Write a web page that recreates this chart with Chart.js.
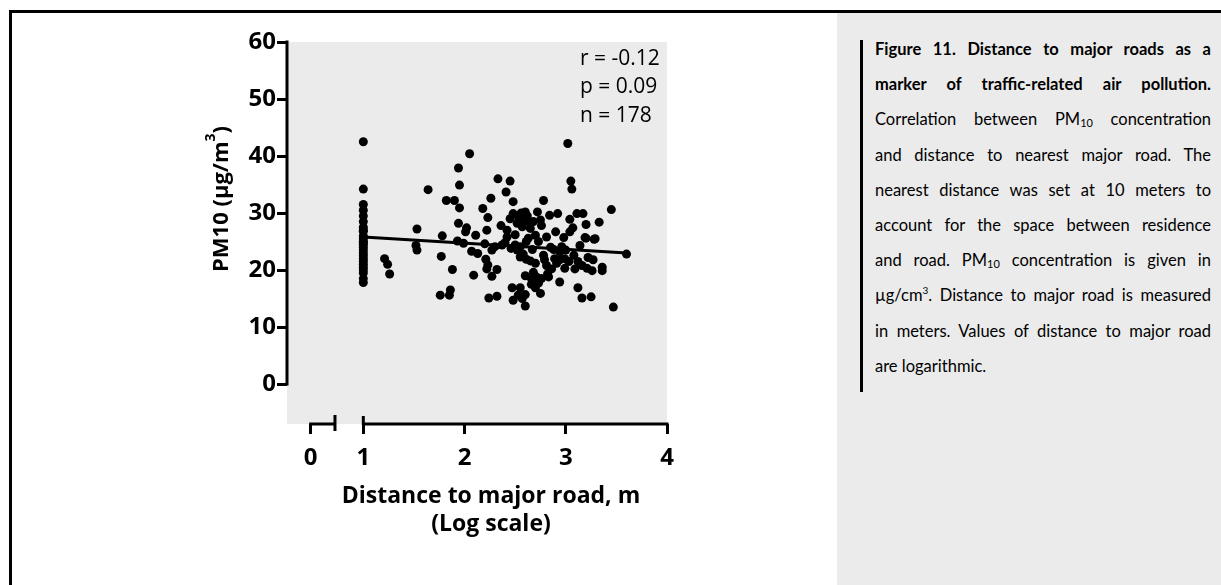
<!DOCTYPE html>
<html>
<head>
<meta charset="utf-8">
<script src="https://cdn.jsdelivr.net/npm/chart.js@4.4.1/dist/chart.umd.min.js"></script>
<style>
  html, body { margin: 0; padding: 0; background: #fff; }
  body { width: 1221px; height: 585px; overflow: hidden; position: relative; font-family: "Open Sans", sans-serif; }
  #frame { position: absolute; left: 9px; top: 10px; width: 1300px; height: 700px; border: 3px solid #000; box-sizing: border-box; }
  #wrap { position: absolute; left: 0; top: 0; width: 830px; height: 585px; }
  #panel { position: absolute; left: 837px; top: 13px; width: 384px; height: 572px; background: #ebebeb; }
  #bar { position: absolute; left: 860px; top: 40px; width: 3px; height: 352px; background: #000; }
  #caption { position: absolute; left: 875px; top: 32px; width: 336px; font-family: Lato, sans-serif; font-size: 16.5px; line-height: 35.2px; color: #000; }
  #caption div { text-align: justify; text-align-last: justify; white-space: normal; }
  #caption div.last { text-align-last: left; }
  #caption sub { font-size: 11px; vertical-align: -2px; line-height: 0; }
  #caption sup { font-size: 10px; vertical-align: 7px; line-height: 0; }
</style>
</head>
<body>
<div id="frame"></div>
<div id="panel"></div>
<div id="bar"></div>
<div id="caption">
  <div><b>Figure 11. Distance to major roads as a</b></div>
  <div><b>marker of traffic-related air pollution.</b></div>
  <div>Correlation between PM<sub>10</sub> concentration</div>
  <div>and distance to nearest major road. The</div>
  <div>nearest distance was set at 10 meters to</div>
  <div>account for the space between residence</div>
  <div>and road. PM<sub>10</sub> concentration is given in</div>
  <div>µg/cm<sup>3</sup>. Distance to major road is measured</div>
  <div>in meters. Values of distance to major road</div>
  <div class="last">are logarithmic.</div>
</div>
<div id="wrap"><canvas id="c"></canvas></div>
<script>
// log10 distance to major road (m)
const distLog = [
  1, 1, 1, 1, 1, 1, 1, 1, 1, 1, 1, 1, 1, 1, 1, 1, 1, 1, 1, 1, 1, 1, 1, 1, 1, 1,
  1.21, 1.24, 1.26, 1.53, 1.52, 1.53, 1.64, 1.78, 1.77, 1.76,
  1.86, 1.85, 1.82, 1.90, 1.95, 1.94, 1.95, 2.05, 1.94, 2.02,
  2.01, 1.93, 1.99, 1.88, 2.11, 2.07, 2.13, 2.09, 2.18, 2.26,
  2.23, 2.22, 2.20, 2.27, 2.21, 2.23, 2.22, 2.27, 2.32, 2.24,
  2.32, 2.33,
  3.02, 3.05, 3.06, 2.45, 2.41, 2.48, 2.78, 3.45, 3.33, 3.20,
  3.11, 3.17, 3.04, 3.07, 3.04, 2.98, 3.20, 3.28, 2.84, 2.92,
  2.72, 2.75, 2.76, 2.90, 2.81, 2.73, 2.70, 2.63,
  2.48, 2.53, 2.60, 2.58, 2.63, 2.52, 2.57, 2.65,
  2.42, 2.42, 2.37, 2.30, 2.50, 2.55, 2.52, 2.61, 2.96, 2.94,
  2.55, 2.61, 2.65, 2.78, 2.79, 2.81,
  2.89, 2.94, 2.99, 3.03, 2.91, 2.99,
  3.12, 3.16, 3.21, 3.27, 3.26, 3.36, 3.36, 3.09, 3.60,
  2.66, 2.71, 2.76, 2.83, 2.73, 2.70, 2.75, 2.94,
  2.47, 2.55, 2.60, 2.57, 2.48, 2.60, 2.53,
  3.12, 3.16, 3.25, 3.47, 3.19, 3.29,
  2.45, 2.56, 2.62, 2.68, 2.40, 2.46, 2.58, 2.67, 2.70, 2.85,
  2.88, 3.00, 3.08, 3.14, 2.60, 2.68, 2.82, 2.86, 2.50, 2.36,
  3.22, 2.66
];
// PM10 concentration (µg/m3)
const pm10 = [
  42.5, 34.2, 31.5, 30.5, 29.5, 28.5, 27.5, 27.0, 26.8, 26.0, 25.5, 25.0, 24.8,
  24.5, 24.0, 23.5, 23.0, 22.5, 22.0, 21.5, 21.0, 20.5, 20.0, 19.5, 18.5, 17.8,
  22.0, 21.0, 19.3, 27.2, 24.3, 23.5, 34.1, 26.0, 22.4, 15.6,
  16.5, 15.6, 32.2, 32.2, 30.9, 37.9, 34.9, 40.4, 28.2, 27.4,
  26.7, 25.1, 24.7, 20.1, 26.1, 23.3, 22.9, 19.1, 30.8, 32.6,
  29.2, 27.0, 24.6, 23.5, 21.9, 20.9, 20.2, 18.9, 20.1, 15.1,
  15.4, 36.0,
  42.2, 35.6, 34.2, 35.6, 33.7, 32.0, 32.2, 30.6, 28.4, 28.0,
  29.9, 29.9, 28.9, 27.4, 26.7, 25.7, 25.6, 25.4, 29.6, 29.9,
  30.2, 28.8, 27.8, 26.7, 25.8, 25.0, 26.1, 25.6,
  29.9, 29.4, 30.2, 28.8, 28.5, 28.2, 27.6, 27.3,
  27.0, 25.8, 24.4, 24.1, 24.4, 24.1, 23.5, 25.0, 24.1, 23.2,
  22.3, 21.9, 21.6, 22.6, 21.8, 20.8,
  22.0, 21.8, 22.0, 21.5, 21.2, 20.3,
  21.5, 20.8, 20.3, 21.8, 19.9, 20.5, 19.9, 20.2, 22.8,
  18.5, 18.8, 18.5, 18.8, 17.7, 16.9, 15.9, 17.9,
  16.9, 16.9, 15.7, 15.0, 14.7, 13.7, 15.6,
  16.9, 15.1, 15.3, 13.5, 25.7, 25.5,
  29.0, 30.0, 29.5, 28.5, 24.8, 23.8, 22.8, 23.6, 21.2, 24.0,
  23.6, 23.5, 22.6, 24.3, 19.0, 19.6, 19.3, 20.2, 26.2, 27.8,
  22.2, 17.5
];
// linear fit endpoints
const fitX = [1, 3.6];
const fitY = [25.8, 23.0];

const xTickValues = [0.48, 1, 2, 3, 4];
const xTickLabels = ['0', '1', '2', '3', '4'];
const yTickValues = [0, 10, 20, 30, 40, 50, 60];
const statLines = ['r = -0.12', 'p = 0.09', 'n = 178'];

const FONT = '"Open Sans", sans-serif';

const plotDecor = {
  id: 'plotDecor',
  beforeDraw(chart) {
    const { ctx, chartArea: a } = chart;
    ctx.save();
    ctx.fillStyle = '#ebebeb';
    ctx.fillRect(a.left, a.top, a.right - a.left, a.bottom - a.top);
    ctx.restore();
  },
  afterDraw(chart) {
    const { ctx, chartArea: a } = chart;
    const xs = chart.scales.x, ys = chart.scales.y;
    ctx.save();
    ctx.strokeStyle = '#000';
    ctx.lineWidth = 3;
    ctx.lineCap = 'butt';

    // y axis line, 0..60 only
    ctx.beginPath();
    ctx.moveTo(a.left, ys.getPixelForValue(0) + 1.5);
    ctx.lineTo(a.left, ys.getPixelForValue(60) - 1.5);
    ctx.stroke();

    // broken x axis
    const yb = a.bottom;
    const x0 = xs.getPixelForValue(0.48), xBreak = xs.getPixelForValue(0.72);
    const x1 = xs.getPixelForValue(1), x4 = xs.getPixelForValue(4);
    ctx.beginPath();
    ctx.moveTo(x0 - 1.5, yb); ctx.lineTo(xBreak, yb);
    ctx.moveTo(xBreak, yb - 9); ctx.lineTo(xBreak, yb + 7);
    ctx.moveTo(x1, yb - 8); ctx.lineTo(x1, yb + 1);
    ctx.moveTo(x1, yb); ctx.lineTo(x4 + 1.5, yb);
    ctx.stroke();

    // axis titles
    ctx.fillStyle = '#000';
    ctx.textAlign = 'center';
    ctx.textBaseline = 'middle';
    ctx.font = 'bold 23px ' + FONT;
    ctx.fillText('Distance to major road, m', 491, 496);
    ctx.fillText('(Log scale)', 491, 524);

    ctx.translate(222, 199);
    ctx.rotate(-Math.PI / 2);
    const main = 'PM10 (µg/m', sup = '3', close = ')';
    ctx.font = 'bold 22px ' + FONT;
    const wMain = ctx.measureText(main).width, wClose = ctx.measureText(close).width;
    ctx.font = 'bold 14px ' + FONT;
    const wSup = ctx.measureText(sup).width;
    let cx = -(wMain + wSup + wClose) / 2;
    ctx.textAlign = 'left';
    ctx.font = 'bold 22px ' + FONT;
    ctx.fillText(main, cx, 0);
    cx += wMain;
    ctx.font = 'bold 14px ' + FONT;
    ctx.fillText(sup, cx, -11);
    cx += wSup;
    ctx.font = 'bold 22px ' + FONT;
    ctx.fillText(close, cx, 0);
    ctx.setTransform(1, 0, 0, 1, 0, 0);

    // stats
    ctx.font = '21px ' + FONT;
    ctx.textAlign = 'left';
    statLines.forEach((t, i) => ctx.fillText(t, 580, 59 + i * 28.5));
    ctx.restore();
  }
};

const tickFont = { family: FONT, size: 24, weight: 'bold' };

new Chart(document.getElementById('c'), {
  data: {
    datasets: [
      {
        type: 'scatter',
        data: distLog.map((x, i) => ({ x: x, y: pm10[i] })),
        backgroundColor: '#000',
        borderColor: '#000',
        pointRadius: 4.5,
        pointBorderWidth: 0
      },
      {
        type: 'line',
        data: fitX.map((x, i) => ({ x: x, y: fitY[i] })),
        borderColor: '#000',
        borderWidth: 3,
        pointRadius: 0,
        fill: false
      }
    ]
  },
  options: {
    responsive: true,
    maintainAspectRatio: false,
    animation: false,
    layout: { padding: { top: 42, right: 163, bottom: 0, left: 0 } },
    plugins: { legend: { display: false }, tooltip: { enabled: false } },
    scales: {
      x: {
        type: 'linear',
        min: 0.246,
        max: 4,
        afterBuildTicks: s => { s.ticks = xTickValues.map(v => ({ value: v })); },
        afterFit: s => { s.height = 161; },
        ticks: { font: tickFont, color: '#000', padding: 10, autoSkip: false, maxRotation: 0,
                 callback: (v, i) => xTickLabels[i] },
        grid: { display: true, drawOnChartArea: false, drawTicks: true, tickLength: 10, color: '#000', lineWidth: 3 },
        border: { display: false }
      },
      y: {
        type: 'linear',
        min: -7,
        max: 60,
        afterBuildTicks: s => { s.ticks = yTickValues.map(v => ({ value: v })); },
        afterFit: s => { s.width = 287; },
        ticks: { font: tickFont, color: '#000', padding: 1, autoSkip: false },
        grid: { display: true, drawOnChartArea: false, drawTicks: true, tickLength: 10, color: '#000', lineWidth: 3 },
        border: { display: false }
      }
    }
  },
  plugins: [plotDecor]
});
</script>
</body>
</html>
